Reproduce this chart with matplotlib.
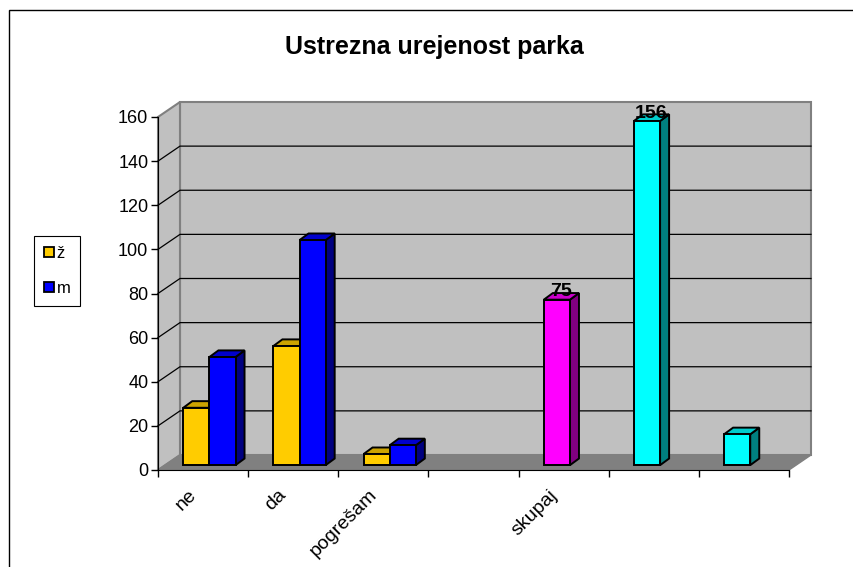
import matplotlib
matplotlib.use('Agg')
import matplotlib.pyplot as plt
from matplotlib.patches import Polygon, Rectangle, Patch

plt.rcParams['font.family'] = ['Liberation Sans', 'DejaVu Sans']

# data
title = "Ustrezna urejenost parka"
categories = ["ne", "da", "pogrešam", "", "skupaj", "", ""]
series_names = ["ž", "m"]
zenske = [26, 54, 5]
moski = [49, 102, 9]
skupaj = [75, 156, 14]
skupaj_pos = [4, 5, 6]
skupaj_label = [True, True, False]
yticks = [0, 20, 40, 60, 80, 100, 120, 140, 160]

# colours: face, top, side
col_z = ("#FFCC00", "#CCA300", "#806600")
col_m = ("#0000FF", "#0000CC", "#000080")
col_sk = [("#FF00FF", "#CC00CC", "#800080"),
          ("#00FFFF", "#00CCCC", "#008080"),
          ("#00FFFF", "#00CCCC", "#008080")]

# 3d look (in data units)
DX, DY = 0.244, 6.8      # wall depth
BFX, BFY = 0.08, 2.2     # bar front offset from front plane
BDX, BDY = 0.10, 3.0     # bar depth
BW = 0.29
SLOT0 = 0.20
YMAX = 160
NCAT = len(categories)

fig = plt.figure(figsize=(8.54, 5.67), dpi=100)
ax = fig.add_axes([158/854, 97/567, 631/854, 353/567])
ax.set_xlim(0, NCAT)
ax.set_ylim(0, YMAX)
ax.patch.set_visible(False)

def poly(pts, fc, ec, lw=1.0, z=1):
	ax.add_patch(Polygon(pts, closed=True, fc=fc, ec=ec, lw=lw, clip_on=False, zorder=z, joinstyle='miter'))

# walls
poly([(DX, DY), (NCAT+DX, DY), (NCAT+DX, YMAX+DY), (DX, YMAX+DY)], "#C0C0C0", "#808080", 1.5, 0.5)
poly([(0, 0), (DX, DY), (DX, YMAX+DY), (0, YMAX)], "#C0C0C0", "#808080", 1.5, 0.5)
poly([(0, 0), (NCAT, 0), (NCAT+DX, DY), (DX, DY)], "#808080", "#808080", 1.0, 0.6)

for v in yticks[1:-1]:
	ax.plot([0, DX, NCAT+DX], [v, v+DY, v+DY], color="black", lw=0.9, clip_on=False, zorder=0.7)

def bar3d(x, h, cols):
	x0 = x + BFX
	x1 = x0 + BW
	y0 = BFY
	y1 = h + BFY
	poly([(x1, y0), (x1+BDX, y0+BDY), (x1+BDX, y1+BDY), (x1, y1)], cols[2], "black", 1.4, 3)
	poly([(x0, y1), (x1, y1), (x1+BDX, y1+BDY), (x0+BDX, y1+BDY)], cols[1], "black", 1.4, 3)
	poly([(x0, y0), (x1, y0), (x1, y1), (x0, y1)], cols[0], "black", 1.4, 3)

for i in range(len(zenske)):
	bar3d(i + SLOT0, zenske[i], col_z)
	bar3d(i + SLOT0 + BW, moski[i], col_m)

for p, v, c, show in zip(skupaj_pos, skupaj, col_sk, skupaj_label):
	bar3d(p + SLOT0, v, c)
	if show:
		ax.text(p + SLOT0 + BFX + BW/2 + BDX/2, v + BFY + 1.5, str(v), ha='center', va='baseline',
			fontsize=14, fontweight='bold', zorder=4, clip_on=False)

# axes
for s in ["top", "right"]:
	ax.spines[s].set_visible(False)
ax.spines["left"].set_zorder(3.5)
ax.spines["bottom"].set_zorder(3.5)
ax.set_yticks(yticks)
ax.set_yticklabels([str(t) for t in yticks])
ax.tick_params(axis='y', direction='out', length=5, width=1, pad=2, labelsize=13)
ax.set_xticks(range(NCAT + 1))
ax.set_xticklabels([])
ax.tick_params(axis='x', which='major', direction='out', length=5, width=1)
ax.set_xticks([i + 0.33 for i in range(NCAT)], minor=True)
ax.set_xticklabels(categories, minor=True, rotation=45, ha='right', rotation_mode='anchor', fontsize=14)
ax.tick_params(axis='x', which='minor', length=0, pad=12)

fig.text(434/854, (567-54)/567, title, ha='center', va='baseline', fontsize=18, fontweight='bold')

handles = [Patch(fc=col_z[0], ec='black', lw=1.3), Patch(fc=col_m[0], ec='black', lw=1.3)]
leg = fig.legend(handles, series_names, loc='center left', bbox_to_anchor=(34/854, 296/567),
	fontsize=12, frameon=True, fancybox=False, edgecolor='black', framealpha=1,
	handlelength=0.6, handleheight=0.6, handletextpad=0.15, borderpad=0.6,
	labelspacing=1.2, borderaxespad=0)
leg.get_frame().set_linewidth(0.8)

fig.add_artist(Rectangle((9/854, -0.1), 1.2, (567-10)/567 + 0.1, transform=fig.transFigure,
	fill=False, ec='black', lw=1))

plt.savefig("out.png", dpi=100)
